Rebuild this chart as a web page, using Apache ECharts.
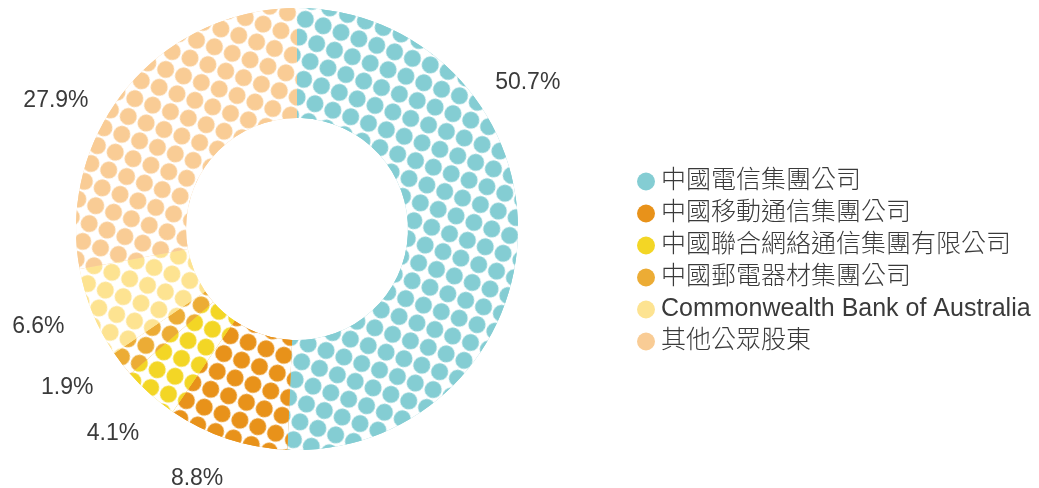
<!DOCTYPE html>
<html>
<head>
<meta charset="utf-8">
<script src="https://cdn.jsdelivr.net/npm/echarts@6/dist/echarts.min.js"></script>
<style>
    html, body { margin: 0; padding: 0; background: #fff; }
    #chart { width: 1039px; height: 488px; }
</style>
</head>
<body>
<div id="chart"></div>
<script>
    // 股東名稱
    const holders = ['中國電信集團公司', '中國移動通信集團公司', '中國聯合網絡通信集團有限公司', '中國郵電器材集團公司', 'Commonwealth Bank of Australia', '其他公眾股東'];
    // 持股比例 (%)
    const shares = [50.7, 8.8, 4.1, 1.9, 6.6, 27.9];
    const colors = ['#84cdd3', '#e8921a', '#f3d625', '#ecac35', '#fde391', '#f9cc95'];
    // 標籤位置: 角度 (由正上方順時針, 度) 和 半徑
    const labelAngles = [57.7, 201.8, 221.9, 235.3, 249.3, 298.0];
    const labelRadii = [273, 269, 275.5, 279.5, 276.5, 273];

    const cx = 297, cy = 229;

    let myChart = echarts.init(document.getElementById('chart'));

    let data = holders.map((name, i) => ({
        name: name,
        value: shares[i],
        itemStyle: {
            color: colors[i],
            decal: {
                symbol: 'circle',
                symbolSize: 1,
                color: colors[i],
                backgroundColor: '#fff',
                dashArrayX: [17, 1.5],
                dashArrayY: [17, 1.5],
                rotation: 0.35
            }
        }
    }));

    let option = {
        animation: false,
        backgroundColor: '#fff',
        legend: {
            orient: 'vertical',
            left: 632,
            top: 164,
            itemWidth: 18,
            itemHeight: 18,
            itemGap: 7,
            icon: 'circle',
            itemStyle: { decal: 'none' },
            textStyle: {
                fontFamily: "'Liberation Sans', 'Noto Sans CJK TC', sans-serif",
                fontSize: 25,
                fontWeight: 300,
                color: '#3a3a3a',
                padding: [0, 0, 0, 1]
            },
            data: holders
        },
        series: [{
            type: 'pie',
            center: [cx, cy],
            radius: [111, 221],
            startAngle: 90,
            clockwise: true,
            avoidLabelOverlap: false,
            silent: true,
            label: {
                show: true,
                position: 'outside',
                fontFamily: "'Liberation Sans', sans-serif",
                fontSize: 23,
                color: '#3a3a3a',
                formatter: p => p.value.toFixed(1) + '%'
            },
            labelLine: { show: false },
            labelLayout: function (params) {
                let i = params.dataIndex;
                let a = labelAngles[i] * Math.PI / 180;
                return {
                    x: cx + labelRadii[i] * Math.sin(a),
                    y: cy - labelRadii[i] * Math.cos(a),
                    align: 'center',
                    verticalAlign: 'middle'
                };
            },
            data: data
        }]
    };
    myChart.setOption(option, true);
</script>
</body>
</html>
